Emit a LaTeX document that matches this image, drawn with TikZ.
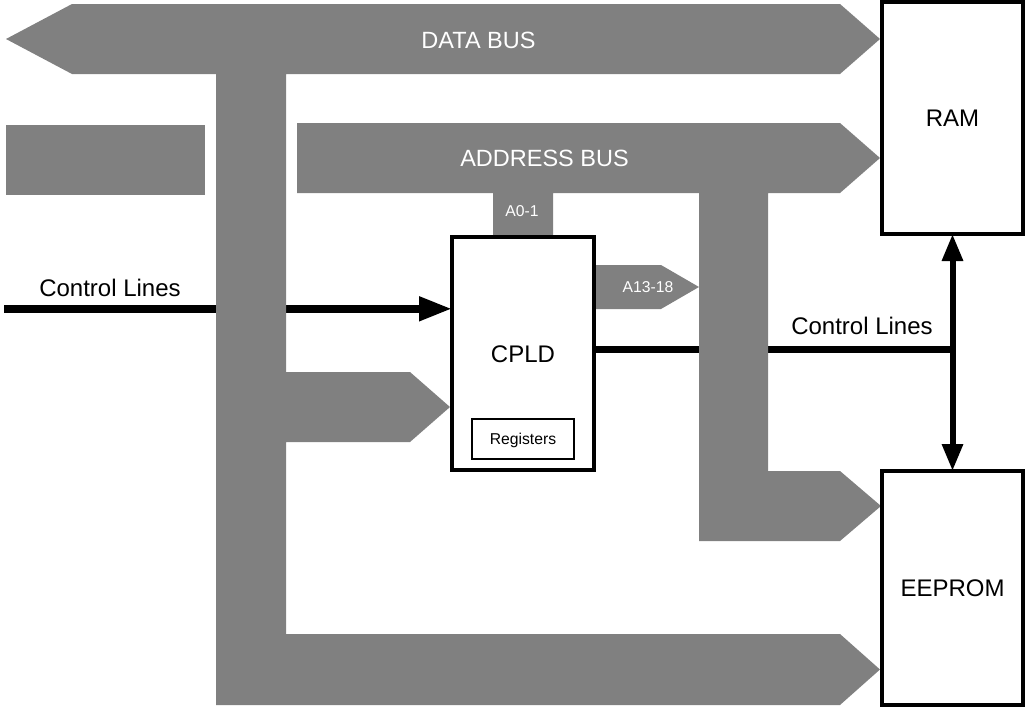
\documentclass[tikz,border=0pt]{standalone}
\usepackage{fontspec}
\setmainfont{Liberation Sans}
\usetikzlibrary{arrows.meta}
\definecolor{busgray}{HTML}{808080}
\tikzset{
  bus/.style={fill=busgray, draw=none},
  chip/.style={draw=black, line width=3.2pt, fill=white, inner sep=0pt, outer sep=0pt,
     font=\fontsize{24}{28}\selectfont, text height=17.2pt, text depth=0pt},
  regbox/.style={draw=black, line width=1.5pt, fill=white, inner sep=0pt, outer sep=0pt,
     font=\fontsize{15.7}{18}\selectfont, text height=11.2pt, text depth=0pt},
  buslabel/.style={text=white, inner sep=0pt, font=\fontsize{23.5}{27}\selectfont, text height=16.8pt, text depth=0pt},
  smalllabel/.style={text=white, inner sep=0pt, font=\fontsize{15.7}{18}\selectfont, text height=11.2pt, text depth=0pt},
  ctllabel/.style={text=black, inner sep=0pt, font=\fontsize{24}{28}\selectfont, text height=17.2pt, text depth=0pt},
  ctl/.style={line width=7.5pt, draw=black},
  ctlv/.style={line width=6pt, draw=black},
}
\begin{document}
\begin{tikzpicture}[x=1pt,y=-1pt]
\useasboundingbox (0,0) rectangle (1026,707);

% invisible placeholder of the CPLD, for the anchors of the lines drawn under the buses
\path (523,353.5) node[chip, minimum width=142pt, minimum height=233pt, draw=none, fill=none] (cpldpos) {};

% control lines (under the buses)
\coordinate (clin) at (4,308.8);
\coordinate (cr) at (952.5,349.3);
\draw[ctl, -{Triangle[length=33pt,width=23pt]}] (clin) -- (clin -| cpldpos.west);
\draw[ctl] (cpldpos.east |- cr) -- (cr);

% data bus
\fill[bus] (6,39) -- (72,4) -- (840,4) -- (880,39) -- (840,74) -- (286,74)
  -- (286,372) -- (410,372) -- (450,407) -- (410,442) -- (286,442)
  -- (286,634) -- (840,634) -- (880,669.5) -- (840,705) -- (216,705)
  -- (216,74) -- (72,74) -- cycle;

% left stub
\fill[bus] (6,125) rectangle (205,195);

% address bus
\fill[bus] (297,123) -- (840,123) -- (880,158) -- (840,193) -- (768,193)
  -- (768,471) -- (840,471) -- (881,506) -- (840,541) -- (699,541)
  -- (699,193) -- (553,193) -- (553,237) -- (493,237) -- (493,193)
  -- (297,193) -- cycle;

% A13-18
\fill[bus] (594,265) -- (661,265) -- (699,287) -- (661,309) -- (594,309) -- cycle;

% chips
\node[chip, minimum width=142pt, minimum height=233pt] (cpld) at (523,353.5) {CPLD};
\node[regbox, minimum width=102pt, minimum height=40pt] (regs) at (523,439) {Registers};
\node[chip, minimum width=141pt, minimum height=232pt] (ram) at (952.5,118) {RAM};
\node[chip, minimum width=141pt, minimum height=234pt] (eeprom) at (952.5,588) {EEPROM};

% vertical control bus
\draw[ctlv, {Triangle[length=27pt,width=20pt]}-{Triangle[length=27pt,width=20pt]}] (ram.south) -- (eeprom.north);

% labels
\node[buslabel] (databus) at (478.5,40) {DATA BUS};
\node[buslabel] (addrbus) at (544.5,158) {ADDRESS BUS};
\node[smalllabel] (a01) at (522,211) {A0-1};
\node[smalllabel] (a1318) at (648,287) {A13-18};
\node[ctllabel] (cl1) at (110,287.5) {Control Lines};
\node[ctllabel] (cl2) at (862,326) {Control Lines};
\end{tikzpicture}
\end{document}
